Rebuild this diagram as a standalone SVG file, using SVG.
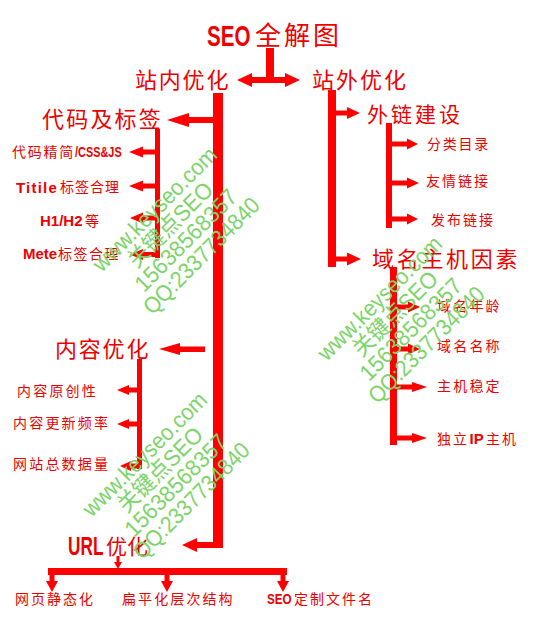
<svg xmlns="http://www.w3.org/2000/svg" width="542" height="622" viewBox="0 0 542 622">
<style>
.bg{fill:#fff}
.r{fill:#ff0000}
.t{fill:#ee0000;font-family:"Noto Sans CJK SC","Liberation Sans",sans-serif}
.big{font-size:22px}
.sm{font-size:14px}
.lat{fill:#ee0000;font-family:"Liberation Sans","Noto Sans CJK SC",sans-serif;font-weight:bold}
.wm{fill:#7dd46a;font-family:"Liberation Sans","Noto Sans CJK SC",sans-serif;font-size:23px;text-anchor:middle}
</style>
<rect class="bg" x="0" y="0" width="542" height="622"/>
<g id="connectors" class="r">
  <rect x="266" y="48" width="8" height="32"/>
  <rect x="251" y="77" width="35" height="6"/>
  <polygon points="237,80 252,73 252,87"/>
  <polygon points="300,80 285,73 285,87"/>
  <rect x="213" y="93" width="10" height="455"/>
  <rect x="196" y="542" width="27" height="6"/>
  <polygon points="182,545 197,538 197,552"/>
  <rect x="188" y="117" width="25" height="6"/>
  <polygon points="167,120 189,113 189,127"/>
  <rect x="179" y="346.5" width="26" height="5.5"/>
  <polygon points="159,349 180,343 180,355"/>
  <rect x="328" y="90" width="8" height="177"/>
  <rect x="336" y="110.5" width="12" height="5"/>
  <polygon points="360,113 347,107 347,119"/>
  <rect x="336" y="256.5" width="12" height="5"/>
  <polygon points="361,259 347,252.5 347,265.5"/>
  <rect x="386" y="123" width="6" height="105"/>
  <rect x="392" y="141.5" width="16" height="5"/>
  <polygon points="418,144 407,138.5 407,149.5"/>
  <rect x="392" y="180.5" width="16" height="5"/>
  <polygon points="419,183 407,177.5 407,188.5"/>
  <rect x="392" y="216.5" width="16" height="5"/>
  <polygon points="418,219 407,213.5 407,224.5"/>
  <rect x="390" y="267" width="7" height="178"/>
  <rect x="397" y="304.5" width="12" height="5"/>
  <polygon points="420,307 408,301.5 408,312.5"/>
  <rect x="397" y="346.5" width="12" height="5"/>
  <polygon points="420,349 408,343.5 408,354.5"/>
  <rect x="397" y="384.5" width="16" height="5"/>
  <polygon points="427,387 412,382 412,392"/>
  <rect x="397" y="435.5" width="16" height="5"/>
  <polygon points="427,438 412,433 412,443"/>
  <rect x="155" y="129" width="5" height="129"/>
  <rect x="142" y="149.5" width="13" height="5"/>
  <polygon points="129,152 143,146.5 143,157.5"/>
  <rect x="142" y="183.5" width="13" height="5"/>
  <polygon points="129,186 143,180.5 143,191.5"/>
  <rect x="142" y="215.5" width="13" height="5"/>
  <polygon points="130,218 143,212.5 143,223.5"/>
  <rect x="142" y="252" width="13" height="5"/>
  <polygon points="130,254.5 143,249 143,260"/>
  <rect x="137" y="359" width="5" height="110"/>
  <rect x="128" y="387.5" width="9" height="5"/>
  <polygon points="117,390 129,385 129,395"/>
  <rect x="128" y="421.5" width="9" height="5"/>
  <polygon points="117,424 129,419 129,429"/>
  <rect x="130" y="463.5" width="7" height="5"/>
  <polygon points="120,466 131,461 131,471"/>
  <rect x="116.5" y="556" width="3" height="7"/>
  <polygon points="114,562 122,562 118,569"/>
  <rect x="48" y="568" width="239" height="7"/>
  <rect x="49.5" y="575" width="5" height="7"/>
  <polygon points="46,581 58,581 52,592"/>
  <rect x="164.5" y="575" width="5" height="7"/>
  <polygon points="161,581 173,581 167,592"/>
  <rect x="280.5" y="575" width="5" height="7"/>
  <polygon points="277,581 289,581 283,592"/>
</g>
<g id="n-title">
  <text class="lat" transform="translate(207,46) scale(0.71,1)" font-size="29">SEO</text>
  <text class="t" x="255" y="45" font-size="26" letter-spacing="3">全解图</text>
</g>
<g id="n-onsite"><text class="t big" x="135" y="88" letter-spacing="1.8">站内优化</text></g>
<g id="n-offsite"><text class="t big" x="312" y="88" letter-spacing="2">站外优化</text></g>
<g id="n-links"><text class="t" x="367" y="122" font-size="21" letter-spacing="3">外链建设</text></g>
<g id="n-domain"><text class="t big" x="372" y="266.5" letter-spacing="2.7">域名主机因素</text></g>
<g id="n-code"><text class="t big" x="42" y="127" letter-spacing="2.2">代码及标签</text></g>
<g id="n-content"><text class="t big" x="55" y="357" letter-spacing="1.8">内容优化</text></g>
<g id="n-url">
  <text class="lat" transform="translate(68,555) scale(0.69,1)" font-size="25">URL</text>
  <text class="t" x="106" y="554" font-size="21">优化</text>
</g>
<g id="n-code1">
  <text class="t sm" x="12" y="157" letter-spacing="1.75">代码精简</text>
  <text class="lat" transform="translate(75,157) scale(0.78,1)" font-size="14">/CSS&amp;JS</text>
</g>
<g id="n-code2">
  <text class="lat" x="16" y="192.5" font-size="15" letter-spacing="1.2">Titile</text>
  <text class="t sm" x="60" y="192" letter-spacing="1">标签合理</text>
</g>
<g id="n-code3">
  <text class="lat" x="40" y="226" font-size="15">H1/H2</text>
  <text class="t sm" x="85" y="226">等</text>
</g>
<g id="n-code4">
  <text class="lat" x="23" y="259" font-size="15">Mete</text>
  <text class="t sm" x="58" y="259" letter-spacing="1.5">标签合理</text>
</g>
<g id="n-link1"><text class="t sm" x="427" y="149" letter-spacing="1.75">分类目录</text></g>
<g id="n-link2"><text class="t sm" x="426" y="186" letter-spacing="2">友情链接</text></g>
<g id="n-link3"><text class="t sm" x="431" y="225" letter-spacing="2">发布链接</text></g>
<g id="n-dom1"><text class="t sm" x="437" y="311" letter-spacing="2.2">域名年龄</text></g>
<g id="n-dom2"><text class="t sm" x="437" y="351" letter-spacing="2.2">域名名称</text></g>
<g id="n-dom3"><text class="t sm" x="437" y="391" letter-spacing="2.2">主机稳定</text></g>
<g id="n-dom4">
  <text class="t sm" x="437" y="444" letter-spacing="2">独立</text>
  <text class="lat" x="469.5" y="444" font-size="15">IP</text>
  <text class="t sm" x="486" y="444" letter-spacing="2">主机</text>
</g>
<g id="n-cont1"><text class="t sm" x="17" y="396" letter-spacing="2.2">内容原创性</text></g>
<g id="n-cont2"><text class="t sm" x="13" y="428" letter-spacing="2.2">内容更新频率</text></g>
<g id="n-cont3"><text class="t sm" x="13" y="469" letter-spacing="2.2">网站总数据量</text></g>
<g id="n-url1"><text class="t sm" x="15" y="604" letter-spacing="2">网页静态化</text></g>
<g id="n-url2"><text class="t sm" x="122" y="604" letter-spacing="2.1">扁平化层次结构</text></g>
<g id="n-url3">
  <text class="lat" transform="translate(267,604) scale(0.78,1)" font-size="15">SEO</text>
  <text class="t sm" x="294" y="604" letter-spacing="2">定制文件名</text>
</g>
<defs>
  <g id="wmark">
    <text class="wm" x="0" y="8" textLength="165" lengthAdjust="spacingAndGlyphs">www.keyseo.com</text>
    <text class="wm" x="0" y="30" textLength="110" lengthAdjust="spacingAndGlyphs">关键点SEO</text>
    <text class="wm" x="0" y="52" textLength="134" lengthAdjust="spacingAndGlyphs">15638568357</text>
    <text class="wm" x="0" y="74" textLength="154" lengthAdjust="spacingAndGlyphs">QQ:2337734840</text>
  </g>
</defs>
<g id="watermark">
  <use href="#wmark" transform="translate(154.5,209) rotate(-45)"/>
  <use href="#wmark" transform="translate(379.5,298) rotate(-45)"/>
  <use href="#wmark" transform="translate(144.5,454) rotate(-45)"/>
</g>
</svg>
